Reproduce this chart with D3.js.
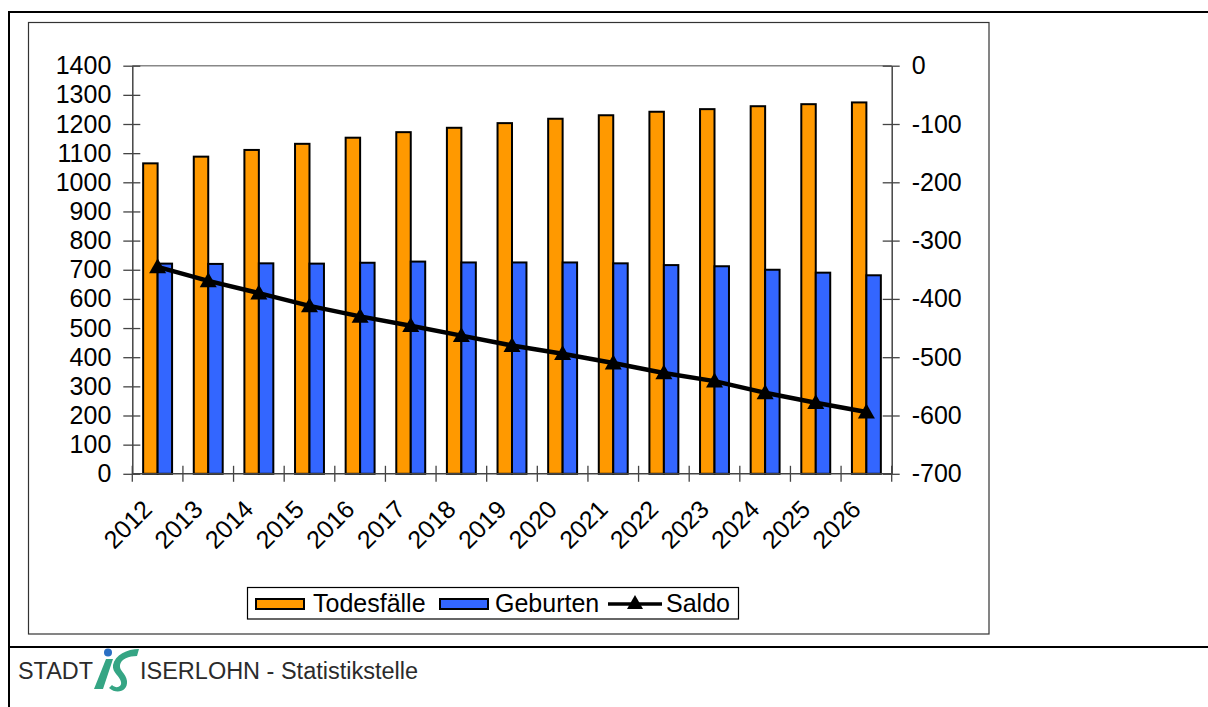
<!DOCTYPE html>
<html>
<head>
<meta charset="utf-8">
<script src="https://cdn.jsdelivr.net/npm/d3@7/dist/d3.min.js"></script>
<style>
  html, body { margin: 0; padding: 0; background: #fff; }
  svg { display: block; font-family: "Liberation Sans", Arial, sans-serif; }
</style>
</head>
<body>
<svg id="chart" width="1208" height="707"></svg>
<script>
// Natürliche Bevölkerungsbewegung Iserlohn 2012–2026
const years = ["2012","2013","2014","2015","2016","2017","2018","2019","2020","2021","2022","2023","2024","2025","2026"];
const todesfaelle = [1065, 1088, 1111, 1132, 1153, 1172, 1187, 1203, 1218, 1230, 1242, 1251, 1261, 1268, 1274];
const geburten   = [721, 720, 722, 721, 724, 728, 725, 725, 725, 722, 716, 712, 700, 690, 681];
const saldo      = [-345, -369, -390, -412, -430, -446, -463, -480, -494, -510, -527, -541, -561, -578, -594];
const leftTicks  = [0, 100, 200, 300, 400, 500, 600, 700, 800, 900, 1000, 1100, 1200, 1300, 1400];
const rightTicks = [0, -100, -200, -300, -400, -500, -600, -700];
const seriesNames = ["Todesfälle", "Geburten", "Saldo"];

const ORANGE = "#FF9900", BLUE = "#3366FF";

const svg = d3.select("#chart");

// page frame lines
svg.append("line").attr("x1", 8.5).attr("x2", 1208).attr("y1", 12).attr("y2", 12)
  .attr("stroke", "#000").attr("stroke-width", 2);
svg.append("line").attr("x1", 9).attr("x2", 9).attr("y1", 11).attr("y2", 707)
  .attr("stroke", "#000").attr("stroke-width", 2);
svg.append("line").attr("x1", 8).attr("x2", 1208).attr("y1", 647).attr("y2", 647)
  .attr("stroke", "#000").attr("stroke-width", 2);

// chart frame
svg.append("rect").attr("x", 28.5).attr("y", 22.5).attr("width", 960.5).attr("height", 611.5)
  .attr("fill", "#fff").attr("stroke", "#333").attr("stroke-width", 1.2);

const plot = { left: 132.3, right: 891.7, top: 65.7, bottom: 473.8 };

const x = d3.scaleBand().domain(years).range([plot.left, plot.right]).paddingInner(0).paddingOuter(0);
const xs = d3.scaleBand().domain(["T", "G"]).range([0, x.bandwidth()]).paddingInner(0).paddingOuter(0.75);
const yL = d3.scaleLinear().domain([0, 1400]).range([plot.bottom, plot.top]);
const yR = d3.scaleLinear().domain([-700, 0]).range([plot.bottom, plot.top]);

// top border of plot area
svg.append("line").attr("x1", plot.left).attr("x2", plot.right)
  .attr("y1", plot.top).attr("y2", plot.top).attr("stroke", "#888").attr("stroke-width", 1.5);

// bars
const g = svg.append("g");
years.forEach((yr, i) => {
  g.append("rect")
    .attr("x", x(yr) + xs("T")).attr("width", xs.bandwidth())
    .attr("y", yL(todesfaelle[i])).attr("height", yL(0) - yL(todesfaelle[i]))
    .attr("fill", ORANGE).attr("stroke", "#000").attr("stroke-width", 2);
  g.append("rect")
    .attr("x", x(yr) + xs("G")).attr("width", xs.bandwidth())
    .attr("y", yL(geburten[i])).attr("height", yL(0) - yL(geburten[i]))
    .attr("fill", BLUE).attr("stroke", "#000").attr("stroke-width", 2);
});

// left axis
const axL = svg.append("g").attr("transform", `translate(${plot.left},0)`)
  .call(d3.axisLeft(yL).tickValues(leftTicks).tickSizeOuter(0).tickSizeInner(9).tickFormat(d3.format("d")));
axL.select(".domain").attr("stroke", "#444").attr("stroke-width", 1.5);
axL.selectAll(".tick line").attr("x1", -9).attr("x2", 8).attr("stroke", "#444").attr("stroke-width", 1.3);
axL.selectAll(".tick text").attr("x", -21).attr("font-size", 25).attr("fill", "#000")
  .attr("font-family", "Liberation Sans, Arial, sans-serif");

// right axis
const axR = svg.append("g").attr("transform", `translate(${plot.right},0)`)
  .call(d3.axisRight(yR).tickValues(rightTicks).tickSizeOuter(0).tickSizeInner(9).tickFormat(d3.format("d")));
axR.select(".domain").attr("stroke", "#444").attr("stroke-width", 1.5);
axR.selectAll(".tick line").attr("x1", -9).attr("x2", 8).attr("stroke", "#444").attr("stroke-width", 1.3);
axR.selectAll(".tick text").attr("x", 20).attr("font-size", 25).attr("fill", "#000")
  .attr("font-family", "Liberation Sans, Arial, sans-serif")
  .text(d => d3.format("d")(d).replace("−", "-"));

// bottom axis with boundary ticks
const axB = svg.append("g");
axB.append("line").attr("x1", plot.left).attr("x2", plot.right)
  .attr("y1", plot.bottom).attr("y2", plot.bottom).attr("stroke", "#444").attr("stroke-width", 1.5);
const bounds = years.map(d => x(d)).concat([x(years[years.length - 1]) + x.bandwidth()]);
axB.selectAll("line.tk").data(bounds).enter().append("line")
  .attr("x1", d => d).attr("x2", d => d)
  .attr("y1", plot.bottom - 8).attr("y2", plot.bottom + 8)
  .attr("stroke", "#444").attr("stroke-width", 1.3);
axB.selectAll("text").data(years).enter().append("text")
  .attr("transform", d => `translate(${x(d) + x.bandwidth() / 2 - 4},${plot.bottom + 37}) rotate(-45)`)
  .attr("text-anchor", "end")
  .attr("font-size", 25).attr("fill", "#000")
  .text(d => d);

// Saldo line
const cx = d => x(d) + x.bandwidth() / 2;
const line = d3.line().x((d, i) => cx(years[i])).y(d => yR(d));
svg.append("path").datum(saldo).attr("d", line)
  .attr("fill", "none").attr("stroke", "#000").attr("stroke-width", 4.5).attr("stroke-linejoin", "round");
const tri = (px, py, s = 8.5) => `M${px},${py - s}L${px + s},${py + s * 0.75}L${px - s},${py + s * 0.75}Z`;
svg.selectAll("path.mk").data(saldo).enter().append("path")
  .attr("class", "mk")
  .attr("d", (d, i) => tri(cx(years[i]), yR(d)))
  .attr("fill", "#000");

// legend
const lg = svg.append("g");
lg.append("rect").attr("x", 247.5).attr("y", 587.5).attr("width", 491).attr("height", 31.5)
  .attr("fill", "#fff").attr("stroke", "#000").attr("stroke-width", 1.2);
lg.append("rect").attr("x", 256).attr("y", 599).attr("width", 48).attr("height", 10)
  .attr("fill", ORANGE).attr("stroke", "#000").attr("stroke-width", 2);
lg.append("text").attr("x", 313).attr("y", 612).attr("font-size", 25).text(seriesNames[0]);
lg.append("rect").attr("x", 440).attr("y", 599).attr("width", 48).attr("height", 10)
  .attr("fill", BLUE).attr("stroke", "#000").attr("stroke-width", 2);
lg.append("text").attr("x", 495).attr("y", 612).attr("font-size", 25).text(seriesNames[1]);
lg.append("line").attr("x1", 608).attr("x2", 662).attr("y1", 604).attr("y2", 604)
  .attr("stroke", "#000").attr("stroke-width", 3.5);
lg.append("path").attr("d", tri(635, 603, 8)).attr("fill", "#000");
lg.append("text").attr("x", 666).attr("y", 612).attr("font-size", 25).text(seriesNames[2]);

// footer: city logo and department name
const ft = svg.append("g");
ft.append("text").attr("x", 18).attr("y", 679).attr("font-size", 23).attr("fill", "#2b2b2b")
  .attr("textLength", 75).attr("lengthAdjust", "spacingAndGlyphs").text("STADT");
ft.append("text").attr("x", 140).attr("y", 679).attr("font-size", 23).attr("fill", "#2b2b2b")
  .attr("textLength", 278).attr("lengthAdjust", "spacingAndGlyphs").text("ISERLOHN - Statistikstelle");
ft.append("circle").attr("cx", 108).attr("cy", 652.5).attr("r", 4).attr("fill", "#2a6fc4");
ft.append("path")
  .attr("d", "M106,659 L113,659 L103,689 L94,689 Z")
  .attr("fill", "#35a584");
ft.append("path")
  .attr("d", "M139,649 C127,649 115,655 113,665 C112,673 120,676 121,682 C122,687 116,689 112,685 L109,688 C117,695 128,691 127,681 C126,673 119,671 120,665 C121,659 129,656 137,656 Z")
  .attr("fill", "#35a584");
</script>
</body>
</html>
